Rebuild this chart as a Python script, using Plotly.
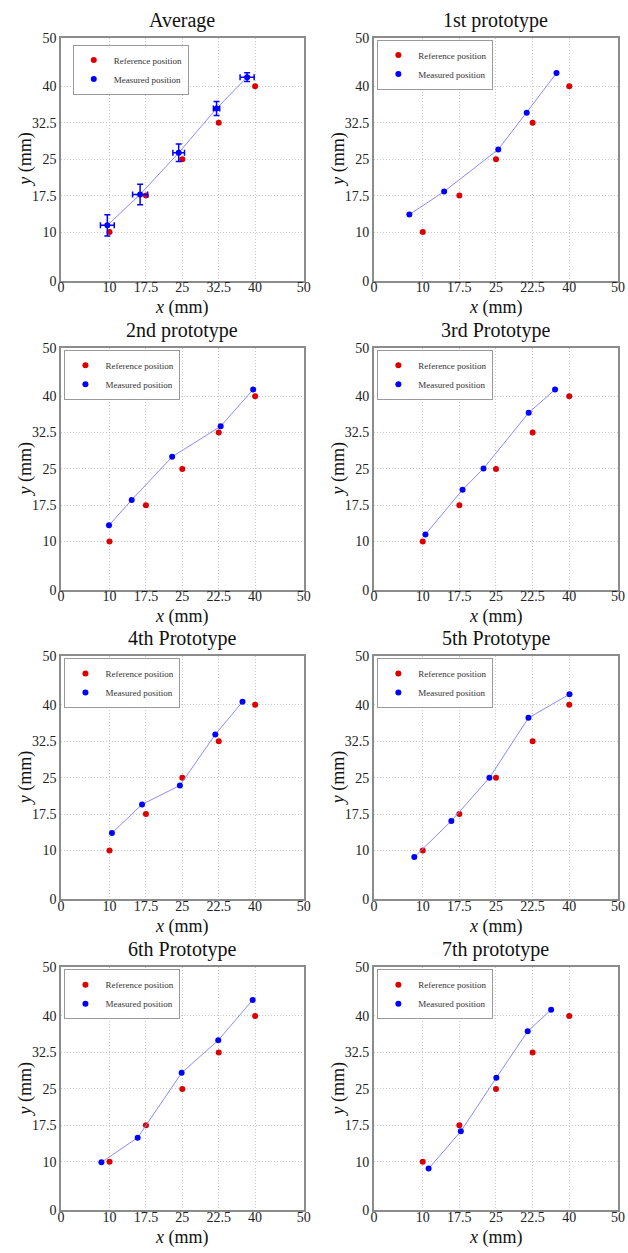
import plotly.graph_objects as go

# Reference (target) positions, identical for every panel
ref_x = [10, 17.5, 25, 32.5, 40]
ref_y = [10, 17.5, 25, 32.5, 40]

# Averaged measurement with standard deviations
avg_x = [9.55, 16.3, 24.25, 32.05, 38.35]
avg_y = [11.38, 17.74, 26.3, 35.43, 41.87]
avg_ex = [1.42, 1.55, 1.2, 0.65, 1.45]
avg_ey = [2.2, 2.1, 1.8, 1.45, 0.9]

# Measured positions of each prototype
p1_x = [7.26, 14.38, 25.47, 31.3, 37.4]
p1_y = [13.6, 18.34, 27.0, 34.57, 42.7]
p2_x = [9.89, 14.57, 22.9, 32.9, 39.6]
p2_y = [13.36, 18.59, 27.5, 33.8, 41.4]
p3_x = [10.55, 18.15, 22.45, 31.7, 37.1]
p3_y = [11.47, 20.7, 25.1, 36.6, 41.4]
p4_x = [10.5, 16.7, 24.5, 31.8, 37.4]
p4_y = [13.6, 19.5, 23.4, 33.9, 40.6]
p5_x = [8.27, 15.86, 23.66, 31.65, 40.05]
p5_y = [8.66, 16.1, 24.97, 37.3, 42.15]
p6_x = [8.33, 15.8, 24.86, 32.4, 39.5]
p6_y = [9.89, 14.97, 28.3, 35.0, 43.3]
p7_x = [11.2, 17.8, 25.07, 31.5, 36.3]
p7_y = [8.6, 16.26, 27.3, 36.86, 41.3]

titles = ["Average", "1st prototype", "2nd prototype", "3rd Prototype",
          "4th Prototype", "5th Prototype", "6th Prototype", "7th prototype"]

tick_vals = [0, 10, 17.5, 25, 32.5, 40, 50]
y_tick_text = ["0", "10", "17.5", "25", "32.5", "40", "50"]
x_tick_text_avg = ["0", "10", "17.5", "25", "32.5", "40", "50"]
x_tick_text_proto = ["0", "10", "17.5", "25", "22.5", "40", "50"]

measured = [(avg_x, avg_y), (p1_x, p1_y), (p2_x, p2_y), (p3_x, p3_y),
            (p4_x, p4_y), (p5_x, p5_y), (p6_x, p6_y), (p7_x, p7_y)]

W, H = 628, 1253
FONT = "Liberation Serif, Times New Roman, serif"
RED = "#dd0000"
BLUE = "#0000ff"
LINE = "#8a8aff"

# panel frames in pixels: (left, right) per column, (top, bottom) per row
col_px = [(58, 305), (376.5, 625)]
row_px = [(31, 277), (345, 590), (657, 903), (972, 1218)]

fig = go.Figure()
layout = dict(
    width=W, height=H,
    margin=dict(l=0, r=0, t=0, b=0),
    paper_bgcolor="white", plot_bgcolor="white",
    font=dict(family=FONT, color="#222222"),
    showlegend=True,
)
annotations = []

for i in range(8):
    r, c = divmod(i, 2)
    left, right = col_px[c]
    top, bottom = row_px[r]
    xd = [left / W, right / W]
    yd = [1 - bottom / H, 1 - top / H]
    n = "" if i == 0 else str(i + 1)
    xa, ya = "x" + n, "y" + n
    lg = "legend" + n

    axis_common = dict(
        range=[0, 50], tickmode="array", tickvals=tick_vals,
        showgrid=True, gridcolor="#c8c8c8", griddash="1px,2px", gridwidth=1,
        showline=True, linecolor="#8c8c8c", linewidth=1.5, mirror=True,
        ticks="", zeroline=False, tickfont=dict(size=14, family=FONT, color="#222222"),
        fixedrange=True,
    )
    layout["xaxis" + n] = dict(axis_common, domain=xd, anchor=ya, ticklabelstandoff=-7,
                               ticktext=x_tick_text_avg if i == 0 else x_tick_text_proto)
    layout["yaxis" + n] = dict(axis_common, domain=yd, anchor=xa, ticktext=y_tick_text)

    mx, my = measured[i]
    fig.add_trace(go.Scatter(
        x=ref_x, y=ref_y, mode="markers", name="Reference position",
        marker=dict(color=RED, size=6), xaxis=xa, yaxis=ya, legend=lg,
    ))
    # connecting line of the measured points (kept out of the legend)
    fig.add_trace(go.Scatter(
        x=mx, y=my, mode="lines", line=dict(color=LINE, width=1),
        xaxis=xa, yaxis=ya, showlegend=False, hoverinfo="skip",
    ))
    meas = dict(
        x=mx, y=my, mode="markers", name="Measured position",
        marker=dict(color=BLUE, size=6), xaxis=xa, yaxis=ya, legend=lg,
    )
    if i == 0:
        meas["error_x"] = dict(type="data", array=avg_ex, color=BLUE, thickness=1.5, width=3)
        meas["error_y"] = dict(type="data", array=avg_ey, color=BLUE, thickness=1.5, width=3)
    fig.add_trace(go.Scatter(**meas))

    off_x = 12 if i == 0 else 3.5
    off_y = 7 if i == 0 else 2
    layout[lg] = dict(
        x=(left + off_x) / W, y=1 - (top + off_y) / H,
        xanchor="left", yanchor="top",
        bgcolor="rgba(255,255,255,0.9)", bordercolor="#9a9a9a", borderwidth=1,
        font=dict(size=9, family=FONT, color="#333333"),
        itemwidth=30, tracegroupgap=0,
    )

    cx = (left + right) / 2 / W
    annotations.append(dict(
        text=titles[i], x=cx, y=1 - top / H, xref="paper", yref="paper",
        xanchor="center", yanchor="bottom", yshift=4, showarrow=False,
        font=dict(size=20, family=FONT, color="#111111"),
    ))
    annotations.append(dict(
        text="<i>x</i> (mm)", x=cx, y=1 - bottom / H, xref="paper", yref="paper",
        xanchor="center", yanchor="middle", yshift=-27, showarrow=False,
        font=dict(size=18, family=FONT, color="#111111"),
    ))
    annotations.append(dict(
        text="<i>y</i> (mm)", x=(left - 36) / W, y=1 - (top + bottom) / 2 / H,
        xref="paper", yref="paper", xanchor="center", yanchor="middle",
        textangle=-90, showarrow=False,
        font=dict(size=18, family=FONT, color="#111111"),
    ))

layout["annotations"] = annotations
fig.update_layout(**layout)
fig.write_html("out.html")
